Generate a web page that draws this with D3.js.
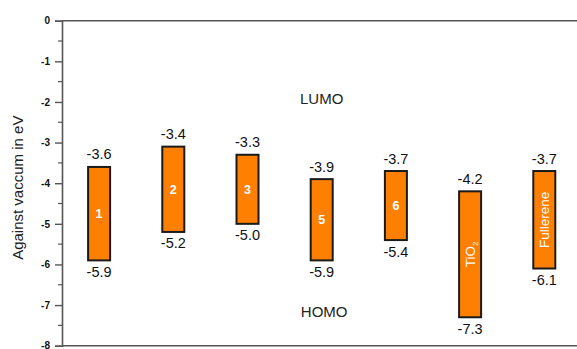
<!DOCTYPE html>
<html>
<head>
<meta charset="utf-8">
<script src="https://cdn.jsdelivr.net/npm/d3@7"></script>
<style>
  body { margin: 0; background: #fff; }
  svg { display: block; font-family: "Liberation Sans", Arial, sans-serif; }
</style>
</head>
<body>
<svg id="chart" width="577" height="349"></svg>
<script>
// energy levels (eV)
const categories = ["1", "2", "3", "5", "6", "TiO2", "Fullerene"]
const lumo = [-3.6, -3.1, -3.3, -3.9, -3.7, -4.2, -3.7]   // drawn bar tops
const homo = [-5.9, -5.2, -5.0, -5.9, -5.4, -7.3, -6.1]
const lumoLabels = ["-3.6", "-3.4", "-3.3", "-3.9", "-3.7", "-4.2", "-3.7"]
const homoLabels = ["-5.9", "-5.2", "-5.0", "-5.9", "-5.4", "-7.3", "-6.1"]
const yTicks = [0, -1, -2, -3, -4, -5, -6, -7, -8]

const svg = d3.select("#chart")
const plotLeft = 62, plotTop = 20.7, plotBottom = 345.7

const x = d3.scaleBand().domain(categories).range([plotLeft, plotLeft + 7 * 74.2]).padding(0)
const y = d3.scaleLinear().domain([0, -8]).range([plotTop, plotBottom])
const barW = 22

// frame lines (top and bottom run off the right edge)
svg.append("line").attr("x1", plotLeft).attr("x2", 577).attr("y1", y(0)).attr("y2", y(0))
  .attr("stroke", "#555").attr("stroke-width", 1.4)
svg.append("line").attr("x1", plotLeft).attr("x2", 577).attr("y1", y(-8)).attr("y2", y(-8))
  .attr("stroke", "#555").attr("stroke-width", 1.4)

// left axis
const yAxis = d3.axisLeft(y).tickValues(yTicks).tickSize(7).tickPadding(5).tickFormat(d => String(d))
const gy = svg.append("g").attr("transform", `translate(${plotLeft},0)`).call(yAxis)
gy.select(".domain").attr("stroke", "#555").attr("stroke-width", 1.6)
gy.selectAll(".tick line").attr("stroke", "#555").attr("stroke-width", 1.4)
gy.selectAll(".tick text").attr("font-size", 10).attr("font-weight", "bold").attr("fill", "#111")
  .attr("font-family", "Liberation Sans, Arial, sans-serif")

// minor ticks at half units
const minor = d3.range(-0.5, -8, -1)
svg.append("g").selectAll("line").data(minor).join("line")
  .attr("x1", plotLeft - 4).attr("x2", plotLeft)
  .attr("y1", d => y(d)).attr("y2", d => y(d))
  .attr("stroke", "#555").attr("stroke-width", 1.2)

// axis title
svg.append("text")
  .attr("transform", `translate(23,${(plotTop + plotBottom) / 2 + 4.5}) rotate(-90)`)
  .attr("text-anchor", "middle").attr("font-size", 15).attr("fill", "#222")
  .text("Against vaccum in eV")

const cx = d => x(d) + x.bandwidth() / 2

const bars = svg.append("g").selectAll("g").data(categories).join("g")

bars.append("rect")
  .attr("x", d => cx(d) - barW / 2)
  .attr("y", (d, i) => y(lumo[i]))
  .attr("width", barW)
  .attr("height", (d, i) => y(homo[i]) - y(lumo[i]))
  .attr("fill", "#ff8000")
  .attr("stroke", "#1a1a1a").attr("stroke-width", 2)

bars.append("text")
  .attr("x", cx)
  .attr("y", (d, i) => y(lumo[i]) - 7.5)
  .attr("text-anchor", "middle").attr("font-size", 14.5).attr("fill", "#111")
  .text((d, i) => lumoLabels[i])

bars.append("text")
  .attr("x", cx)
  .attr("y", (d, i) => y(homo[i]) + 16.5)
  .attr("text-anchor", "middle").attr("font-size", 14.5).attr("fill", "#111")
  .text((d, i) => homoLabels[i])

// names inside the bars
bars.each(function(d, i) {
  const g = d3.select(this)
  const mid = (y(lumo[i]) + y(homo[i])) / 2
  if (d.length == 1) {
    g.append("text").attr("x", cx(d)).attr("y", mid + 4.5)
      .attr("text-anchor", "middle").attr("font-size", 12.5).attr("font-weight", "bold")
      .attr("fill", "#fff").text(d)
  } else {
    const t = g.append("text")
      .attr("transform", `translate(${cx(d) + 5},${mid}) rotate(-90)`)
      .attr("text-anchor", "middle").attr("font-size", 13.5).attr("fill", "#fff")
    if (d == "TiO2") {
      t.append("tspan").text("TiO")
      t.append("tspan").attr("font-size", 8).attr("dy", 3).text("2")
    } else {
      t.text(d)
    }
  }
})

// band labels
svg.append("text").attr("x", cx("5")).attr("y", y(-2.05))
  .attr("text-anchor", "middle").attr("font-size", 15).attr("fill", "#222").text("LUMO")
svg.append("text").attr("x", cx("5") + 2.5).attr("y", y(-7.29))
  .attr("text-anchor", "middle").attr("font-size", 15).attr("fill", "#222").text("HOMO")
</script>
</body>
</html>
